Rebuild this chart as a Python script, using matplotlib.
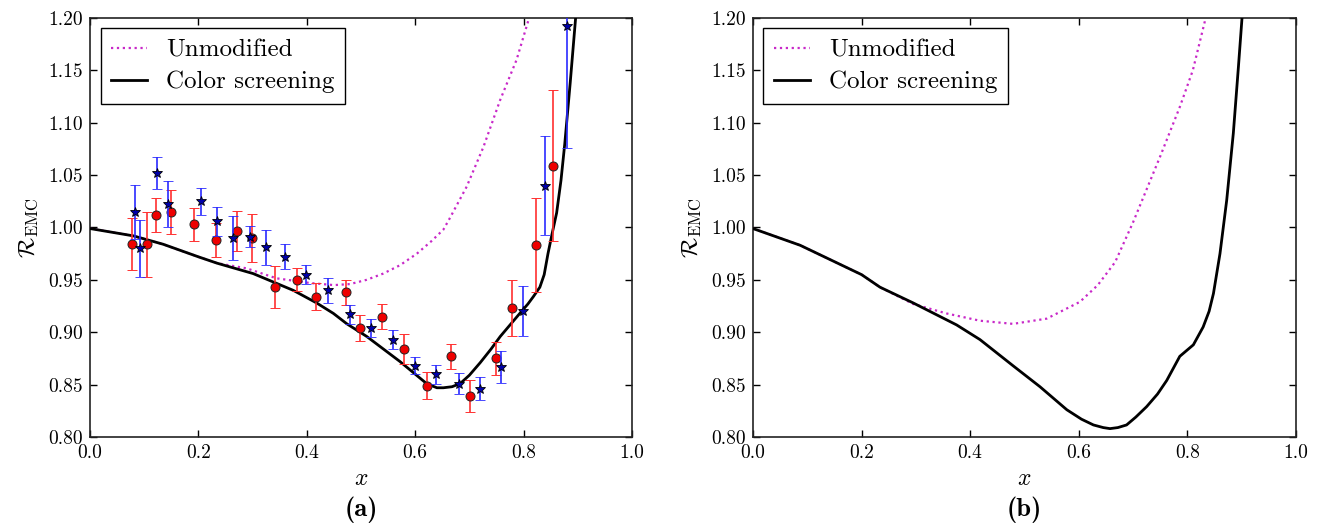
import matplotlib.pyplot as plt
import numpy as np

plt.rcParams['font.family'] = 'serif'
plt.rcParams['font.serif'] = ['cmr10']
plt.rcParams['mathtext.fontset'] = 'cm'
plt.rcParams['axes.formatter.use_mathtext'] = True

# panel (a) data points
red_x = [0.078, 0.105, 0.121, 0.149, 0.192, 0.232, 0.271, 0.299, 0.342, 0.381, 0.417,
         0.472, 0.499, 0.539, 0.579, 0.622, 0.666, 0.701, 0.749, 0.779, 0.822, 0.854]
red_y = [0.984, 0.984, 1.012, 1.015, 1.003, 0.988, 0.997, 0.990, 0.943, 0.950, 0.934,
         0.938, 0.904, 0.915, 0.884, 0.849, 0.877, 0.839, 0.875, 0.923, 0.983, 1.059]
red_err = [0.025, 0.031, 0.016, 0.021, 0.016, 0.016, 0.019, 0.023, 0.020, 0.011, 0.013,
           0.012, 0.012, 0.012, 0.014, 0.013, 0.012, 0.015, 0.016, 0.027, 0.045, 0.072]

blue_x = [0.083, 0.093, 0.124, 0.143, 0.204, 0.234, 0.263, 0.295, 0.325, 0.360, 0.399, 0.439,
          0.479, 0.519, 0.559, 0.599, 0.639, 0.680, 0.720, 0.759, 0.799, 0.840, 0.880]
blue_y = [1.015, 0.980, 1.052, 1.022, 1.025, 1.006, 0.990, 0.991, 0.981, 0.972, 0.955, 0.940,
          0.917, 0.904, 0.893, 0.868, 0.860, 0.851, 0.846, 0.867, 0.920, 1.040, 1.192]
blue_err = [0.026, 0.027, 0.015, 0.022, 0.013, 0.014, 0.021, 0.010, 0.017, 0.012, 0.009, 0.012,
            0.009, 0.009, 0.009, 0.008, 0.009, 0.010, 0.011, 0.015, 0.024, 0.047, 0.116]

# panel (a) curves
a_screen_x = [0.0, 0.08, 0.135, 0.2, 0.234, 0.301, 0.375, 0.418, 0.449, 0.474, 0.5105, 0.572,
              0.6, 0.621, 0.64, 0.652, 0.668, 0.683, 0.70, 0.72, 0.74, 0.757, 0.775, 0.793,
              0.808, 0.818, 0.83, 0.838, 0.845, 0.853, 0.861, 0.869, 0.876, 0.886, 0.896, 0.902]
a_screen_y = [0.999, 0.992, 0.984, 0.972, 0.966, 0.956, 0.940, 0.928, 0.918, 0.908, 0.896, 0.872,
              0.860, 0.851, 0.847, 0.847, 0.848, 0.851, 0.859, 0.871, 0.884, 0.896, 0.907, 0.918,
              0.927, 0.934, 0.943, 0.955, 0.975, 0.995, 1.014, 1.045, 1.080, 1.138, 1.200, 1.235]
a_unmod_x = [0.0, 0.08, 0.135, 0.2, 0.234, 0.289, 0.344, 0.406, 0.45, 0.48, 0.51, 0.541, 0.572,
             0.603, 0.630, 0.652, 0.664, 0.695, 0.726, 0.757, 0.787, 0.809, 0.815]
a_unmod_y = [0.999, 0.992, 0.984, 0.972, 0.966, 0.961, 0.9515, 0.947, 0.945, 0.946, 0.950, 0.956,
             0.964, 0.975, 0.987, 0.998, 1.009, 1.039, 1.077, 1.122, 1.160, 1.198, 1.21]

# panel (b) curves
b_screen_x = [0.0, 0.087, 0.2, 0.234, 0.295, 0.375, 0.418, 0.479, 0.5285, 0.578, 0.605, 0.627,
              0.645, 0.6575, 0.672, 0.688, 0.705, 0.725, 0.745, 0.762, 0.786, 0.811, 0.829,
              0.84, 0.848, 0.86, 0.8724, 0.8846, 0.894, 0.9006, 0.904]
b_screen_y = [0.999, 0.983, 0.955, 0.943, 0.928, 0.907, 0.893, 0.868, 0.848, 0.826, 0.817, 0.8115,
              0.809, 0.808, 0.809, 0.8115, 0.819, 0.829, 0.841, 0.854, 0.877, 0.888, 0.905,
              0.920, 0.937, 0.975, 1.026, 1.090, 1.1535, 1.200, 1.23]
b_unmod_x = [0.0, 0.087, 0.2, 0.234, 0.295, 0.356, 0.418, 0.479, 0.541, 0.602, 0.635, 0.667, 0.70,
             0.75, 0.786, 0.81, 0.832, 0.836]
b_unmod_y = [0.999, 0.983, 0.955, 0.943, 0.927, 0.918, 0.911, 0.908, 0.913, 0.929, 0.945, 0.967,
             1.005, 1.068, 1.115, 1.150, 1.1965, 1.21]

x_ticks = [0.0, 0.2, 0.4, 0.6, 0.8, 1.0]
y_ticks = [0.80, 0.85, 0.90, 0.95, 1.00, 1.05, 1.10, 1.15, 1.20]

magenta = '#c828c8'


def style_axes(ax):
    ax.set_xlim(0, 1)
    ax.set_ylim(0.8, 1.2)
    ax.set_xticks(x_ticks)
    ax.set_yticks(y_ticks)
    ax.set_xticklabels([f'{t:.1f}' for t in x_ticks])
    ax.set_yticklabels([f'{t:.2f}' for t in y_ticks])
    ax.tick_params(direction='in', top=True, right=True, length=5, width=1.0,
                   labelsize=14, pad=5)
    for spine in ax.spines.values():
        spine.set_linewidth(1.2)
        spine.set_color('#222222')
    ax.set_xlabel(r'$x$', fontsize=17, labelpad=4)
    ax.set_ylabel(r'$\mathcal{R}_{\rm EMC}$', fontsize=17, labelpad=6)
    leg = ax.legend(loc='upper left', fontsize=18, fancybox=False, framealpha=1,
                    edgecolor='black', handlelength=1.45, handletextpad=0.75,
                    borderaxespad=0.42, labelspacing=0.38, borderpad=0.42)
    leg.get_frame().set_linewidth(1.0)


fig = plt.figure(figsize=(13.18, 5.26), dpi=100)
ax_a = fig.add_axes([0.0683, 0.1692, 0.4112, 0.7966])
ax_b = fig.add_axes([0.5713, 0.1692, 0.412, 0.7966])

ax_a.plot(a_unmod_x, a_unmod_y, ':', color=magenta, lw=1.6, label='Unmodified', zorder=2)
ax_a.plot(a_screen_x, a_screen_y, '-', color='black', lw=2.0, label='Color screening', zorder=3)
ax_a.errorbar(red_x, red_y, yerr=red_err, fmt='o', color='#ff2020', ecolor='#ff3030',
              elinewidth=1.2, capsize=3.5, capthick=1.2, markersize=6.5,
              markerfacecolor='#ee0000', markeredgecolor='#222222', markeredgewidth=0.7, zorder=4)
ax_a.errorbar(blue_x, blue_y, yerr=blue_err, fmt='*', color='#2020ff', ecolor='#2a2aff',
              elinewidth=1.2, capsize=3.5, capthick=1.2, markersize=7,
              markerfacecolor='#0000aa', markeredgecolor='black', markeredgewidth=0.6, zorder=5)
style_axes(ax_a)

ax_b.plot(b_unmod_x, b_unmod_y, ':', color=magenta, lw=1.6, label='Unmodified', zorder=2)
ax_b.plot(b_screen_x, b_screen_y, '-', color='black', lw=2.0, label='Color screening', zorder=3)
style_axes(ax_b)

fig.text(361 / 1318, 1 - 510 / 526, '(a)', fontsize=19, fontname='cmb10', ha='center', va='center')
fig.text(1024 / 1318, 1 - 510 / 526, '(b)', fontsize=19, fontname='cmb10', ha='center', va='center')

fig.savefig('out.png', dpi=100)
plt.close()
